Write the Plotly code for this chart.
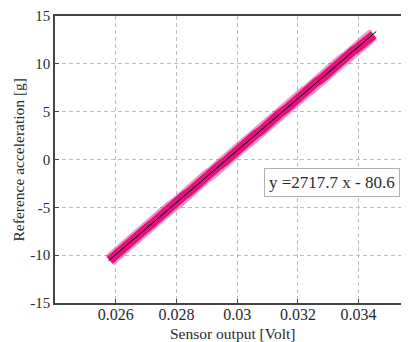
import plotly.graph_objects as go

sensor_v = [0.0258, 0.0260, 0.0262, 0.0264, 0.0266, 0.0268, 0.0270, 0.0272, 0.0274, 0.0276,
            0.0278, 0.0280, 0.0282, 0.0284, 0.0286, 0.0288, 0.0290, 0.0292, 0.0294, 0.0296,
            0.0298, 0.0300, 0.0302, 0.0304, 0.0306, 0.0308, 0.0310, 0.0312, 0.0314, 0.0316,
            0.0318, 0.0320, 0.0322, 0.0324, 0.0326, 0.0328, 0.0330, 0.0332, 0.0334, 0.0336,
            0.0338, 0.0340, 0.0342, 0.0344, 0.0345]
accel_g = [-10.55, -9.95, -9.35, -8.90, -8.30, -7.80, -7.20, -6.70, -6.10, -5.60,
           -5.00, -4.55, -3.90, -3.45, -2.85, -2.35, -1.75, -1.30, -0.65, -0.20,
           0.40, 0.90, 1.50, 2.00, 2.60, 3.05, 3.70, 4.15, 4.80, 5.25,
           5.85, 6.35, 6.95, 7.40, 8.05, 8.50, 9.10, 9.60, 10.20, 10.65,
           11.30, 11.75, 12.35, 12.85, 13.05]

# Linear fit
slope = 2717.7
intercept = -80.6
fit_x = [0.02576, 0.03458]
fit_y = [slope * v + intercept for v in fit_x]

x_ticks = [0.026, 0.028, 0.030, 0.032, 0.034]
x_ticklabels = ["0.026", "0.028", "0.03", "0.032", "0.034"]
y_ticks = [-15, -10, -5, 0, 5, 10, 15]
y_ticklabels = ["-15", "-10", "-5", "0", "5", "10", "15"]

x_title = "Sensor output [Volt]"
y_title = "Reference acceleration [g]"

magenta = "#e3137d"
font_family = "Liberation Serif"
text_color = "#2a2a2a"

fig = go.Figure()
fig.add_trace(go.Scatter(x=sensor_v, y=accel_g, mode="lines",
                         line=dict(color="rgba(227,19,125,0.45)", width=13),
                         showlegend=False, hoverinfo="skip"))
fig.add_trace(go.Scatter(x=sensor_v, y=accel_g, mode="lines",
                         line=dict(color=magenta, width=9),
                         showlegend=False, hoverinfo="skip"))
fig.add_trace(go.Scatter(x=fit_x, y=fit_y, mode="lines",
                         line=dict(color="black", width=1),
                         showlegend=False, hoverinfo="skip"))

fig.add_annotation(x=0.03312, y=-2.45, xref="x", yref="y",
                   text=f"y ={slope} x - {abs(intercept)}",
                   showarrow=False, font=dict(family=font_family, size=17, color=text_color),
                   bgcolor="white", bordercolor="#b0b0b0", borderwidth=1, borderpad=4)

# Axis titles
fig.add_annotation(x=0.5, y=0, xref="paper", yref="paper", yanchor="middle",
                   yshift=-30, text=x_title, showarrow=False,
                   font=dict(family=font_family, size=15.5, color=text_color))
fig.add_annotation(x=0, y=0.5, xref="paper", yref="paper", xanchor="center",
                   xshift=-37, text=y_title, textangle=-90, showarrow=False,
                   font=dict(family=font_family, size=15.5, color=text_color))

axis_common = dict(showgrid=True, gridcolor="#bdbdbd", griddash="4px,3px", gridwidth=1,
                   showline=True, linecolor="#444", linewidth=1.5,
                   ticks="inside", ticklen=4, tickcolor="#444", zeroline=False,
                   automargin=False)

fig.update_xaxes(range=[0.024, 0.03566], tickvals=x_ticks, ticktext=x_ticklabels,
                 mirror=True, ticklabelstandoff=-4,
                 tickfont=dict(family=font_family, size=16, color=text_color),
                 **axis_common)
fig.update_yaxes(range=[-15, 15], tickvals=y_ticks, ticktext=y_ticklabels,
                 mirror=False,
                 tickfont=dict(family=font_family, size=15, color=text_color),
                 **axis_common)

# the page body adds an 8px offset, so the figure is sized to compensate
fig.update_layout(width=401, height=334,
                  margin=dict(l=47, r=0, t=8, b=39),
                  paper_bgcolor="white", plot_bgcolor="white")

fig.write_html("out.html")
